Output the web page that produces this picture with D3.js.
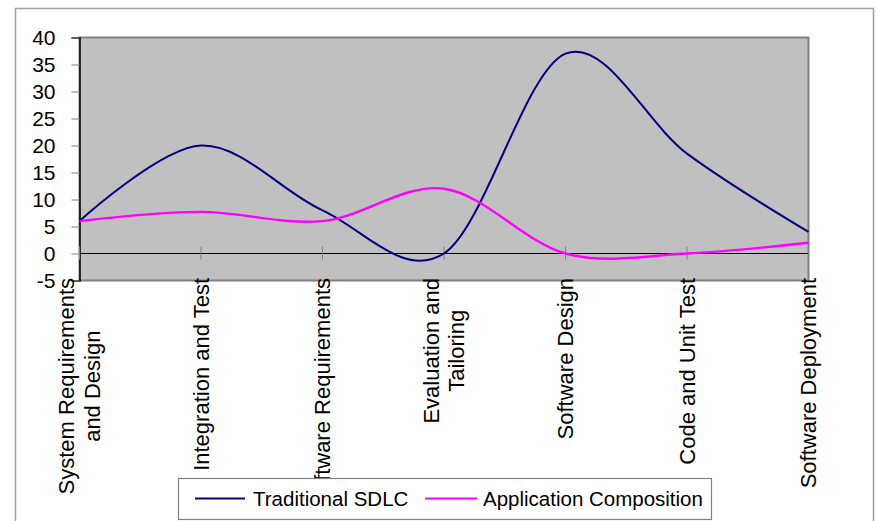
<!DOCTYPE html>
<html>
<head>
<meta charset="utf-8">
<script src="https://cdn.jsdelivr.net/npm/d3@7"></script>
<style>
  html, body { margin: 0; padding: 0; background: #fff; }
  svg { display: block; font-family: Arial, "Liberation Sans", sans-serif; }
</style>
</head>
<body>
<svg id="chart" width="877" height="521"></svg>
<script>
// Life-cycle phases (category axis); "\n" splits a label onto two lines
const categories = [
  "System Requirements\nand Design",
  "Integration and Test",
  "Software Requirements",
  "Evaluation and\nTailoring",
  "Software Design",
  "Code and Unit Test",
  "Software Deployment"
];
const traditionalSDLC = [6, 20, 8, 0, 37, 18.5, 4];
const applicationComposition = [6, 7.7, 6, 12, 0, 0, 2];
const yTicks = [-5, 0, 5, 10, 15, 20, 25, 30, 35, 40];
const seriesNames = ["Traditional SDLC", "Application Composition"];
const seriesColors = ["#000080", "#FF00FF"];

const svg = d3.select("#chart");

// outer chart frame (open at the bottom)
svg.append("path")
  .attr("d", "M15.5,521 V8.5 H873.5 V521")
  .attr("fill", "none")
  .attr("stroke", "#a0a0a0")
  .attr("stroke-width", 1.5);

const plot = { left: 79.5, right: 808.5, top: 37.5, bottom: 280.5 };

const x = d3.scalePoint().domain(categories).range([plot.left, plot.right]);
const y = d3.scaleLinear().domain([-5, 40]).range([plot.bottom, plot.top]);

// plot area
svg.append("rect")
  .attr("x", plot.left).attr("y", plot.top)
  .attr("width", plot.right - plot.left).attr("height", plot.bottom - plot.top)
  .attr("fill", "#C0C0C0")
  .attr("stroke", "#808080")
  .attr("stroke-width", 2);

// value axis (plain hyphen for negatives)
const yAxis = d3.axisLeft(y)
  .tickValues(yTicks)
  .tickFormat(d => String(d))
  .tickSize(8)
  .tickPadding(16);
const yg = svg.append("g").attr("transform", `translate(${plot.left},0)`).call(yAxis);
yg.select(".domain").attr("stroke", "#000").attr("stroke-width", 1.5);
yg.selectAll(".tick line").attr("stroke", "#808080");
yg.selectAll(".tick text")
  .attr("font-size", 21)
  .attr("fill", "#000")
  .attr("font-family", "Arial, 'Liberation Sans', sans-serif");

// category axis crossing at zero, with ticks straddling the line
const xg = svg.append("g").attr("transform", `translate(0,${y(0)})`);
xg.append("line")
  .attr("x1", plot.left).attr("x2", plot.right)
  .attr("stroke", "#000").attr("stroke-width", 1.2);
xg.selectAll("line.tick")
  .data(categories)
  .join("line")
  .attr("class", "tick")
  .attr("x1", d => x(d)).attr("x2", d => x(d))
  .attr("y1", -7).attr("y2", 6)
  .attr("stroke", "#808080");

// series curves (Excel-style smoothing = uniform Catmull-Rom)
const line = d3.line()
  .x((d, i) => x(categories[i]))
  .y(d => y(d))
  .curve(d3.curveCardinal.tension(0));

[traditionalSDLC, applicationComposition].forEach((vals, s) => {
  svg.append("path")
    .datum(vals)
    .attr("d", line)
    .attr("fill", "none")
    .attr("stroke", seriesColors[s])
    .attr("stroke-width", s === 0 ? 2 : 2.4);
});

// rotated category labels below the plot
const catFont = 22;
const lineStep = 25.5;
categories.forEach(c => {
  const lines = c.split("\n");
  const g = svg.append("g")
    .attr("class", "cat-label")
    .attr("transform", `translate(${x(c)},278) rotate(-90)`);
  const texts = lines.map((t, k) => g.append("text")
    .attr("x", 0)
    .attr("y", (k - (lines.length - 1) / 2) * lineStep)
    .attr("dy", "0.35em")
    .attr("text-anchor", lines.length > 1 ? "middle" : "end")
    .attr("font-size", catFont)
    .attr("fill", "#000")
    .text(t));
  if (lines.length > 1) {
    // centre the shorter line within the span of the longest one
    const w = d3.max(texts, t => t.node().getComputedTextLength());
    texts.forEach(t => t.attr("x", -w / 2));
  }
});

// legend
const lg = svg.append("g");
lg.append("rect")
  .attr("x", 178.5).attr("y", 478.5)
  .attr("width", 533).attr("height", 41)
  .attr("fill", "#fff")
  .attr("stroke", "#808080")
  .attr("stroke-width", 1.2);
const legendItems = [
  { x1: 195, x2: 245, tx: 253 },
  { x1: 425, x2: 477, tx: 483 }
];
legendItems.forEach((it, i) => {
  lg.append("line")
    .attr("x1", it.x1).attr("x2", it.x2)
    .attr("y1", 498.5).attr("y2", 498.5)
    .attr("stroke", seriesColors[i])
    .attr("stroke-width", 2);
  lg.append("text")
    .attr("x", it.tx).attr("y", 506)
    .attr("font-size", 20.5)
    .attr("fill", "#000")
    .text(seriesNames[i]);
});
</script>
</body>
</html>
